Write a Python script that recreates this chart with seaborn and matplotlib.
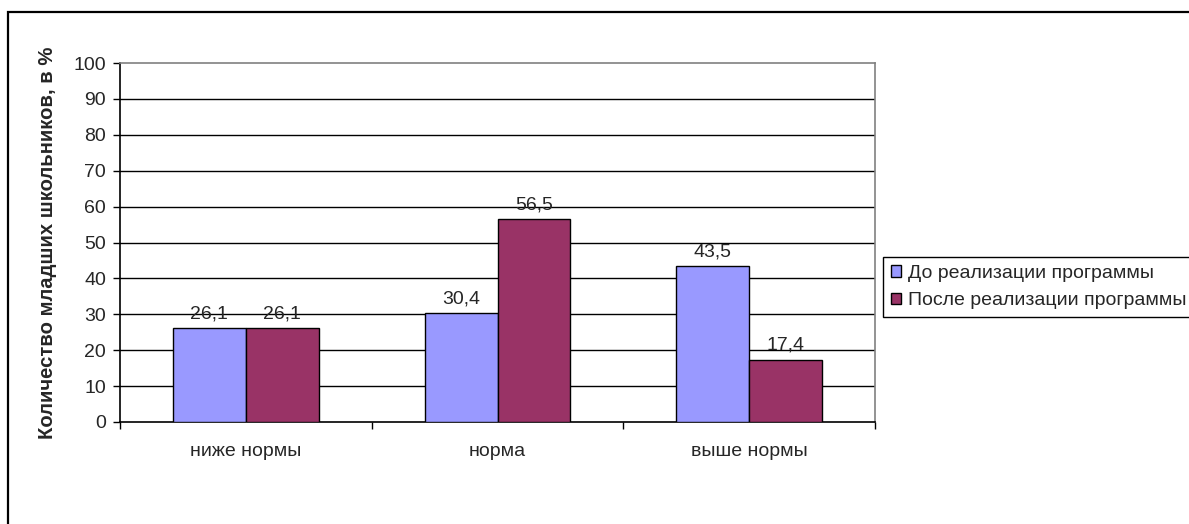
import matplotlib
matplotlib.use("Agg")
import matplotlib.pyplot as plt
import matplotlib.patches as mpatches
import seaborn as sns
import pandas as pd

categories = ["ниже нормы", "норма", "выше нормы"]
series_names = ["До реализации программы", "После реализации программы"]
before_values = [26.1, 30.4, 43.5]
after_values = [26.1, 56.5, 17.4]
y_ticks = [0, 10, 20, 30, 40, 50, 60, 70, 80, 90, 100]
y_label = "Количество младших школьников, в %"
colors = ["#9999FF", "#993366"]

df = pd.DataFrame({
    "category": categories * 2,
    "series": [series_names[0]] * 3 + [series_names[1]] * 3,
    "value": before_values + after_values,
})

sns.set_theme(style="white")
plt.rcParams["font.family"] = ["Liberation Sans", "DejaVu Sans"]

FS = 14

fig = plt.figure(figsize=(11.89, 5.24), dpi=100)
ax = fig.add_axes([120 / 1189, 102 / 524, 755 / 1189, 359 / 524])

sns.barplot(data=df, x="category", y="value", hue="series",
            order=categories, hue_order=series_names, palette=colors,
            width=0.58, edgecolor="black", linewidth=1.0, ax=ax,
            saturation=1, zorder=3)

ax.set_ylim(0, 100)
ax.set_xlim(-0.5, 2.5)
ax.set_yticks(y_ticks)
ax.set_yticklabels([str(t) for t in y_ticks], fontsize=FS)
for t in y_ticks[1:-1]:
    ax.axhline(t, color="black", linewidth=1.0, zorder=1)

ax.set_xlabel("")
ax.set_ylabel(y_label, fontsize=14.6, fontweight="bold")
ax.yaxis.set_label_coords(-0.083, 0.5)

# category labels centred, tick marks on category boundaries
ax.set_xticks(range(len(categories)))
ax.set_xticklabels(categories, fontsize=FS)
ax.tick_params(axis="x", which="major", length=0, pad=15)
ax.set_xticks([-0.5, 0.5, 1.5, 2.5], minor=True)
ax.tick_params(axis="x", which="minor", length=5, width=1.0, color="black",
               direction="out", bottom=True)
ax.tick_params(axis="y", length=5, width=1.0, color="black", direction="out",
               left=True, pad=5)

for side in ["left", "bottom"]:
    ax.spines[side].set_color("black")
    ax.spines[side].set_linewidth(1.2)
for side in ["top", "right"]:
    ax.spines[side].set_color("#808080")
    ax.spines[side].set_linewidth(1.2)

for container in ax.containers:
    ax.bar_label(container,
                 labels=[f"{v:.1f}".replace(".", ",") for v in container.datavalues],
                 padding=4, fontsize=FS)

handles = [mpatches.Patch(facecolor=c, edgecolor="black", linewidth=1.0) for c in colors]
ax.legend(handles, series_names, loc="upper left",
          bbox_to_anchor=(883 / 1189, (524 - 257) / 524),
          bbox_transform=fig.transFigure, fontsize=FS, frameon=True,
          fancybox=False, edgecolor="black", framealpha=1,
          handlelength=0.55, handleheight=0.55, handletextpad=0.35,
          borderpad=0.4, labelspacing=0.55, borderaxespad=0)
ax.get_legend().get_frame().set_linewidth(1.0)

# outer chart frame
fig.patches.append(mpatches.Rectangle((8 / 1189, -0.5), 2.0, 0.5 + (524 - 12) / 524,
                                      transform=fig.transFigure, fill=False,
                                      edgecolor="black", linewidth=1.6))

fig.savefig("out.png", dpi=100)
